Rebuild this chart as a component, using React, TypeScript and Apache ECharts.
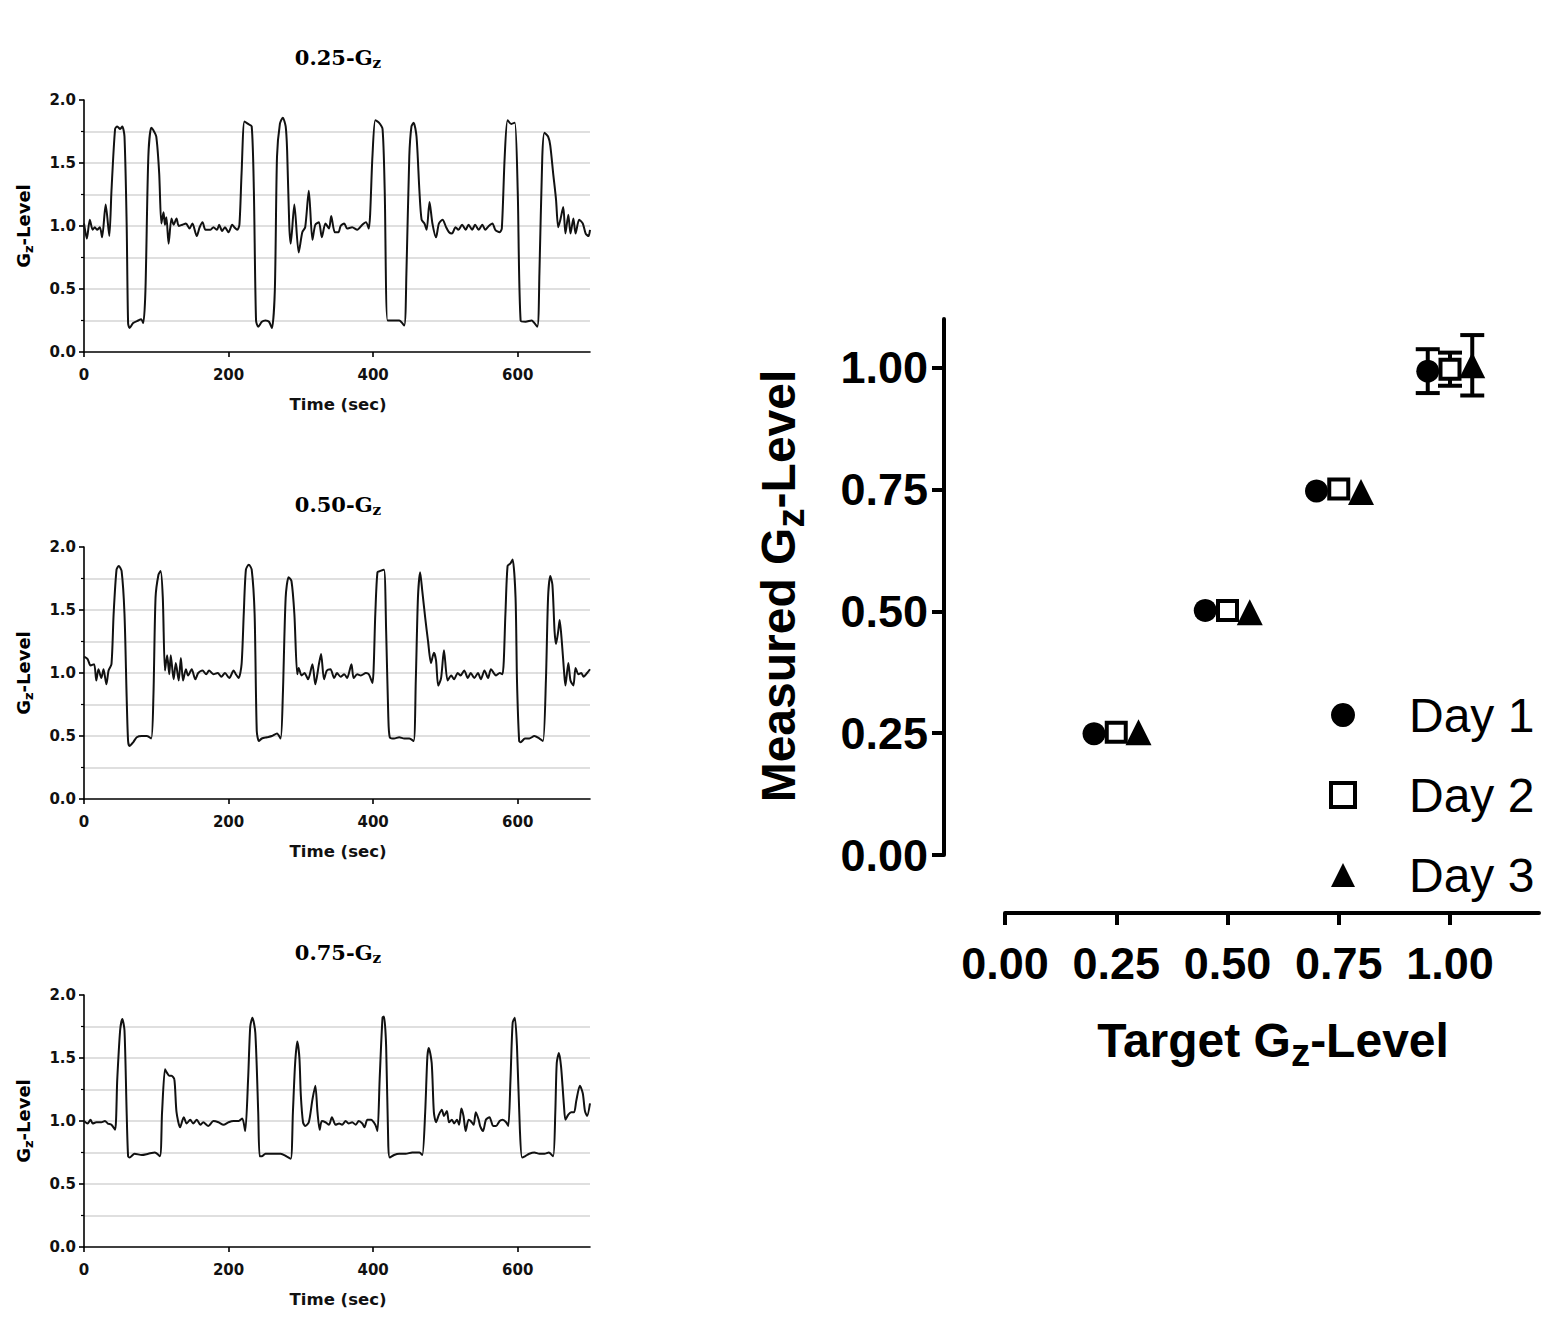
import React, { useEffect, useRef } from "react";
import * as echarts from "echarts";

// ---------- DATA ----------
const timeTicks = [0, 200, 400, 600];
const panelLevels = ["0.25", "0.50", "0.75"];

const trace025: [number, number][] = [
  [0, 1.02], [4, 0.9], [8, 1.05], [12, 0.97], [15, 0.99], [18, 0.97], [22, 0.99], [25, 0.91], [30, 1.17], [35, 0.92],
  [38, 1.28], [43, 1.77], [46, 1.79], [50, 1.77], [53, 1.79], [56, 1.71], [59, 1.02], [61, 0.23], [63, 0.19], [68, 0.23],
  [75, 0.25], [79, 0.26], [82, 0.23], [85, 0.49], [89, 1.55], [93, 1.78], [96, 1.76], [100, 1.71], [104, 1.42], [107, 1.02],
  [110, 1.11], [112, 1.01], [114, 1.07], [117, 0.86], [121, 1.06], [124, 1.01], [128, 1.06], [131, 1.0], [136, 1.01], [141, 1.02],
  [146, 0.98], [150, 1.02], [156, 0.92], [160, 0.99], [164, 1.03], [168, 0.97], [175, 0.97], [179, 0.99], [184, 0.97], [187, 1.01],
  [191, 0.96], [195, 0.99], [200, 0.95], [205, 1.01], [208, 0.99], [212, 0.97], [215, 1.01], [218, 1.42], [222, 1.83], [227, 1.81],
  [232, 1.79], [235, 1.28], [238, 0.25], [241, 0.2], [246, 0.24], [251, 0.25], [256, 0.24], [260, 0.19], [264, 0.49], [267, 1.55],
  [271, 1.81], [275, 1.86], [279, 1.79], [281, 1.6], [284, 1.0], [286, 0.86], [291, 1.17], [297, 0.79], [302, 0.95], [306, 0.99],
  [311, 1.28], [316, 0.89], [320, 1.01], [325, 1.03], [329, 0.91], [334, 1.02], [339, 0.98], [342, 1.08], [347, 0.95], [352, 0.95],
  [355, 1.0], [360, 1.02], [364, 0.98], [371, 0.99], [378, 0.97], [385, 1.01], [390, 1.03], [394, 0.98], [399, 1.55], [403, 1.84],
  [408, 1.82], [413, 1.77], [416, 1.28], [420, 0.25], [427, 0.25], [436, 0.25], [443, 0.21], [446, 0.62], [450, 1.55], [453, 1.79],
  [456, 1.82], [460, 1.71], [464, 1.28], [467, 1.05], [471, 1.02], [474, 0.97], [478, 1.19], [482, 1.02], [487, 0.91], [491, 1.02],
  [496, 1.05], [501, 0.99], [505, 0.95], [509, 0.94], [514, 0.99], [518, 0.97], [523, 1.01], [528, 0.97], [532, 1.01], [537, 0.97],
  [541, 1.01], [546, 0.97], [551, 1.01], [555, 0.97], [560, 1.0], [565, 1.02], [569, 0.97], [575, 0.95], [578, 0.98], [582, 1.55],
  [586, 1.84], [591, 1.81], [596, 1.82], [600, 1.28], [604, 0.25], [611, 0.24], [619, 0.25], [627, 0.2], [630, 0.62], [634, 1.55],
  [637, 1.74], [642, 1.71], [645, 1.64], [649, 1.42], [653, 1.21], [656, 0.99], [659, 1.05], [663, 1.15], [666, 0.94], [670, 1.09],
  [673, 0.94], [677, 1.06], [680, 0.94], [685, 1.05], [690, 1.02], [694, 0.94], [698, 0.92], [700, 0.97],
];

const trace050: [number, number][] = [
  [0, 1.13], [5, 1.11], [9, 1.06], [14, 1.07], [17, 0.94], [20, 1.03], [24, 0.96], [27, 1.03], [31, 0.91], [34, 1.02],
  [38, 1.07], [41, 1.47], [45, 1.82], [48, 1.85], [52, 1.81], [56, 1.47], [59, 0.81], [61, 0.46], [63, 0.42], [68, 0.45],
  [73, 0.49], [80, 0.5], [87, 0.5], [93, 0.48], [96, 0.81], [99, 1.6], [103, 1.78], [106, 1.81], [109, 1.6], [112, 1.02],
  [115, 1.14], [118, 0.99], [120, 1.14], [124, 0.95], [127, 1.08], [131, 0.94], [134, 1.12], [137, 0.94], [141, 1.03], [144, 0.98],
  [149, 1.03], [154, 0.95], [158, 1.0], [164, 1.02], [169, 0.99], [173, 1.02], [179, 0.99], [185, 1.0], [190, 0.97], [195, 1.0],
  [201, 0.96], [207, 1.02], [210, 0.99], [214, 0.96], [218, 1.07], [221, 1.47], [224, 1.82], [228, 1.86], [232, 1.82], [236, 1.47],
  [239, 0.54], [242, 0.46], [246, 0.48], [253, 0.49], [260, 0.5], [267, 0.52], [272, 0.48], [275, 0.81], [279, 1.6], [283, 1.76],
  [287, 1.73], [291, 1.47], [295, 0.99], [297, 1.04], [301, 0.98], [305, 1.0], [310, 0.95], [316, 1.07], [320, 0.91], [325, 1.07],
  [328, 1.15], [332, 0.95], [336, 1.02], [341, 1.03], [346, 0.96], [350, 1.0], [355, 0.97], [360, 0.99], [364, 0.96], [370, 1.07],
  [373, 0.96], [378, 0.99], [383, 0.98], [390, 1.0], [394, 0.99], [399, 0.92], [403, 1.47], [406, 1.8], [410, 1.81], [415, 1.82],
  [418, 1.33], [421, 0.65], [423, 0.49], [429, 0.48], [436, 0.49], [443, 0.48], [450, 0.48], [456, 0.46], [459, 0.94], [462, 1.6],
  [465, 1.8], [468, 1.65], [472, 1.44], [476, 1.25], [480, 1.08], [484, 1.16], [487, 1.1], [490, 0.9], [494, 0.96], [498, 1.18],
  [503, 0.94], [508, 0.98], [512, 0.95], [517, 1.0], [521, 0.98], [526, 1.02], [531, 0.96], [535, 1.0], [540, 0.96], [545, 1.0],
  [549, 0.95], [554, 1.02], [559, 0.96], [563, 1.03], [570, 0.98], [575, 1.0], [579, 0.99], [583, 1.47], [586, 1.85], [590, 1.87],
  [593, 1.9], [597, 1.6], [599, 0.94], [602, 0.46], [604, 0.45], [610, 0.48], [616, 0.48], [623, 0.5], [630, 0.48], [635, 0.46],
  [639, 0.94], [642, 1.6], [645, 1.77], [648, 1.7], [651, 1.33], [653, 1.23], [656, 1.33], [658, 1.42], [661, 1.25], [664, 1.02],
  [666, 0.9], [670, 1.08], [673, 0.94], [677, 0.9], [680, 1.04], [684, 0.99], [688, 1.0], [691, 0.97], [696, 1.0], [700, 1.03],
];

const trace075: [number, number][] = [
  [0, 1.0], [5, 0.98], [9, 1.01], [12, 0.98], [17, 0.99], [24, 0.99], [29, 1.0], [33, 0.98], [38, 0.97], [43, 0.93],
  [46, 1.33], [50, 1.72], [53, 1.81], [56, 1.72], [59, 1.07], [61, 0.72], [63, 0.71], [70, 0.74], [80, 0.73], [89, 0.74],
  [98, 0.75], [105, 0.72], [108, 1.07], [112, 1.41], [114, 1.39], [118, 1.36], [121, 1.36], [125, 1.33], [128, 1.07], [133, 0.95],
  [138, 1.03], [142, 0.98], [147, 1.01], [151, 0.98], [156, 1.01], [161, 0.97], [165, 0.99], [172, 0.96], [179, 1.0], [186, 0.99],
  [193, 0.97], [200, 0.99], [207, 1.0], [214, 1.0], [219, 1.02], [223, 0.92], [227, 1.33], [230, 1.75], [233, 1.82], [237, 1.7],
  [241, 1.07], [243, 0.72], [246, 0.72], [251, 0.74], [258, 0.74], [265, 0.74], [272, 0.74], [280, 0.72], [286, 0.7], [289, 1.07],
  [292, 1.45], [295, 1.63], [298, 1.5], [300, 1.2], [303, 0.99], [306, 0.96], [311, 0.99], [316, 1.17], [320, 1.28], [323, 1.07],
  [326, 0.93], [329, 1.0], [334, 0.99], [339, 0.97], [343, 1.03], [348, 0.97], [353, 0.98], [357, 0.97], [362, 1.0], [366, 0.98],
  [371, 0.99], [376, 0.97], [380, 1.0], [385, 0.98], [388, 0.95], [392, 1.01], [397, 1.01], [403, 0.97], [406, 0.92], [409, 1.33],
  [413, 1.82], [415, 1.83], [418, 1.59], [421, 0.8], [423, 0.71], [429, 0.73], [436, 0.74], [445, 0.74], [454, 0.75], [464, 0.75],
  [468, 0.73], [472, 1.07], [475, 1.51], [477, 1.58], [481, 1.46], [484, 1.07], [487, 0.99], [491, 1.05], [495, 1.09], [498, 1.04],
  [502, 1.08], [505, 0.99], [509, 1.01], [512, 0.98], [516, 1.01], [519, 0.97], [522, 1.1], [525, 1.04], [528, 0.92], [532, 1.01],
  [535, 1.0], [539, 0.97], [542, 1.07], [546, 1.01], [548, 0.96], [552, 0.92], [556, 1.01], [561, 1.03], [566, 0.96], [570, 0.96],
  [575, 1.0], [579, 1.01], [584, 0.99], [587, 0.96], [590, 1.33], [593, 1.78], [596, 1.82], [599, 1.59], [603, 0.93], [606, 0.71],
  [610, 0.72], [616, 0.74], [623, 0.75], [630, 0.74], [637, 0.74], [643, 0.75], [649, 0.72], [652, 1.07], [654, 1.46], [657, 1.54],
  [660, 1.43], [664, 1.12], [666, 1.01], [670, 1.05], [674, 1.07], [678, 1.07], [681, 1.16], [686, 1.28], [690, 1.22], [693, 1.08],
  [696, 1.04], [700, 1.14],
];

const targetLevels = [0.25, 0.5, 0.75, 1.0];
const targetTicks = [0, 0.25, 0.5, 0.75, 1.0];
const measuredTicks = [0, 0.25, 0.5, 0.75, 1.0];
const dayNames = ["Day 1", "Day 2", "Day 3"];
const day1Mean = [0.249, 0.502, 0.747, 0.993];
const day1Sd = [0.006, 0.006, 0.006, 0.045];
const day2Mean = [0.252, 0.502, 0.751, 0.997];
const day2Sd = [0.006, 0.006, 0.006, 0.034];
const day3Mean = [0.252, 0.498, 0.745, 1.005];
const day3Sd = [0.006, 0.006, 0.006, 0.062];

// ---------- LAYOUT / STYLE ----------
const dayNudge = [-0.05, 0, 0.05];
const SANS = "'Liberation Sans', Arial, sans-serif";
const DJ = "'DejaVu Sans', sans-serif";
const DJS = "'DejaVu Serif', serif";
const panelTops = [100, 547, 995];

function gz(before: string, after: string, fs: number, family: string, subScale: number, offFrac: number) {
  const L = fs * 1.3;
  const hs = Math.max(2, L - 2 * offFrac * fs);
  return {
    text: `{m|${before}G}{s|z}{m|${after}}`,
    rich: {
      m: { fontSize: fs, fontFamily: family, fontWeight: "bold", fill: "#000", lineHeight: L },
      s: { fontSize: fs * subScale, fontFamily: family, fontWeight: "bold", fill: "#000", lineHeight: hs, verticalAlign: "bottom" },
    },
  };
}

export default function App() {
  const ref = useRef<HTMLDivElement>(null);
  useEffect(() => {
    if (!ref.current) return;
    const chart = echarts.init(ref.current, undefined, { renderer: "svg" });
    const traces = [trace025, trace050, trace075];
    const means = [day1Mean, day2Mean, day3Mean];
    const sds = [day1Sd, day2Sd, day3Sd];

    const grids: any[] = panelTops.map((t) => ({ left: 84, top: t, width: 506, height: 252 }));
    grids.push({ left: 1005, top: 319, width: 534, height: 536 });

    const xAxes: any[] = panelTops.map((_, i) => ({
      gridIndex: i, type: "value", min: 0, max: 700,
      axisLine: { show: true, onZero: false, lineStyle: { color: "#000", width: 1.6 } },
      axisTick: { show: true, length: 5, customValues: timeTicks, lineStyle: { color: "#000", width: 1.6 } },
      axisLabel: { customValues: timeTicks, fontFamily: DJ, fontWeight: "bold", fontSize: 15, color: "#111", margin: 15 },
      splitLine: { show: false },
    }));
    xAxes.push({
      gridIndex: 3, type: "value", min: 0, max: 1.2, offset: 58,
      axisLine: { show: true, onZero: false, lineStyle: { color: "#000", width: 4 } },
      axisTick: { show: true, length: 12, customValues: targetTicks, lineStyle: { color: "#000", width: 4 } },
      axisLabel: { customValues: targetTicks, formatter: (v: number) => v.toFixed(2), fontFamily: SANS, fontWeight: "bold", fontSize: 45, color: "#000", margin: 28 },
      splitLine: { show: false },
    });

    const yAxes: any[] = panelTops.map((_, i) => ({
      gridIndex: i, type: "value", min: 0, max: 2, interval: 0.5,
      axisLine: { show: true, onZero: false, lineStyle: { color: "#000", width: 1.6 } },
      axisTick: { show: true, length: 5, lineStyle: { color: "#000", width: 1.6 } },
      minorTick: { show: true, splitNumber: 2, length: 3, lineStyle: { color: "#000", width: 1.2 } },
      axisLabel: { formatter: (v: number) => v.toFixed(1), fontFamily: DJ, fontWeight: "bold", fontSize: 15, color: "#111", margin: 8 },
      splitLine: { show: true, showMinLine: false, showMaxLine: false, lineStyle: { color: "#d4d4d4", width: 1.6 } },
      minorSplitLine: { show: true, lineStyle: { color: "#d4d4d4", width: 1.6 } },
    }));
    yAxes.push({
      gridIndex: 3, type: "value", min: 0, max: 1.1, offset: 61,
      axisLine: { show: true, onZero: false, lineStyle: { color: "#000", width: 4 } },
      axisTick: { show: true, length: 12, customValues: measuredTicks, lineStyle: { color: "#000", width: 4 } },
      axisLabel: { customValues: measuredTicks, formatter: (v: number) => v.toFixed(2), fontFamily: SANS, fontWeight: "bold", fontSize: 45, color: "#000", margin: 16 },
      splitLine: { show: false },
    });

    const series: any[] = traces.map((tr, i) => ({
      type: "line", xAxisIndex: i, yAxisIndex: i, data: tr, showSymbol: false, smooth: 0.25,
      lineStyle: { color: "#111", width: 2 }, silent: true,
    }));

    const capHalf = 12;
    const minVisible = 26;
    means.forEach((m, d) => {
      series.push({
        type: "custom", xAxisIndex: 3, yAxisIndex: 3, z: 2, silent: true,
        data: targetLevels.map((t, i) => [t + dayNudge[d], m[i], sds[d][i]]),
        encode: { x: 0, y: 1 },
        renderItem: (_p: any, api: any) => {
          const x = api.value(0), mv = api.value(1), sd = api.value(2);
          const top = api.coord([x, mv + sd]);
          const bot = api.coord([x, mv - sd]);
          if (bot[1] - top[1] < minVisible) return { type: "group", children: [] };
          const st = { stroke: "#000", lineWidth: 4 };
          return {
            type: "group",
            children: [
              { type: "line", shape: { x1: top[0], y1: top[1], x2: bot[0], y2: bot[1] }, style: st },
              { type: "line", shape: { x1: top[0] - capHalf, y1: top[1], x2: top[0] + capHalf, y2: top[1] }, style: st },
              { type: "line", shape: { x1: bot[0] - capHalf, y1: bot[1], x2: bot[0] + capHalf, y2: bot[1] }, style: st },
            ],
          };
        },
      });
    });

    const symbols = ["circle", "rect", "triangle"];
    const sizes = [23, 19, 26];
    const styles = [
      { color: "#000", opacity: 1 },
      { color: "#fff", borderColor: "#000", borderWidth: 4, opacity: 1 },
      { color: "#000", opacity: 1 },
    ];
    means.forEach((m, d) => {
      series.push({
        type: "scatter", name: dayNames[d], xAxisIndex: 3, yAxisIndex: 3, z: 3 + d,
        symbol: symbols[d], symbolSize: sizes[d], itemStyle: styles[d],
        data: targetLevels.map((t, i) => [t + dayNudge[d], m[i]]),
      });
    });

    const graphic: any[] = [];
    panelTops.forEach((t, i) => {
      graphic.push({ type: "text", x: 338, y: t - 43, style: { ...gz(panelLevels[i] + "-", "", 21, DJS, 0.72, 0.16), align: "center", verticalAlign: "middle" } });
      graphic.push({ type: "text", x: 23, y: t + 126, rotation: Math.PI / 2, style: { ...gz("", "-Level", 18, DJ, 0.72, 0.2), align: "center", verticalAlign: "middle" } });
      graphic.push({ type: "text", x: 338, y: t + 304, style: { text: "Time (sec)", fontFamily: DJ, fontWeight: "bold", fontSize: 16.5, fill: "#111", align: "center", verticalAlign: "middle" } });
    });
    graphic.push({ type: "text", x: 778, y: 586, rotation: Math.PI / 2, style: { ...gz("Measured ", "-Level", 48, SANS, 0.8, 0.26), align: "center", verticalAlign: "middle" } });
    graphic.push({ type: "text", x: 1273, y: 1040, style: { ...gz("Target ", "-Level", 48, SANS, 0.8, 0.26), align: "center", verticalAlign: "middle" } });

    chart.setOption({
      animation: false,
      backgroundColor: "#fff",
      grid: grids,
      xAxis: xAxes,
      yAxis: yAxes,
      series,
      graphic,
      legend: {
        show: true, orient: "vertical", left: 1324, top: 685, padding: 5, itemWidth: 24, itemHeight: 24, itemGap: 30,
        selectedMode: false,
        data: [{ name: "Day 1" }, { name: "Day 2", itemStyle: { borderWidth: 4 } }, { name: "Day 3" }],
        textStyle: { fontFamily: SANS, fontSize: 48, color: "#000", lineHeight: 50, padding: [0, 0, 0, 49] },
      },
    });
    return () => chart.dispose();
  }, []);
  return <div ref={ref} style={{ position: "absolute", left: 0, top: 0, width: 1559, height: 1332 }} />;
}
